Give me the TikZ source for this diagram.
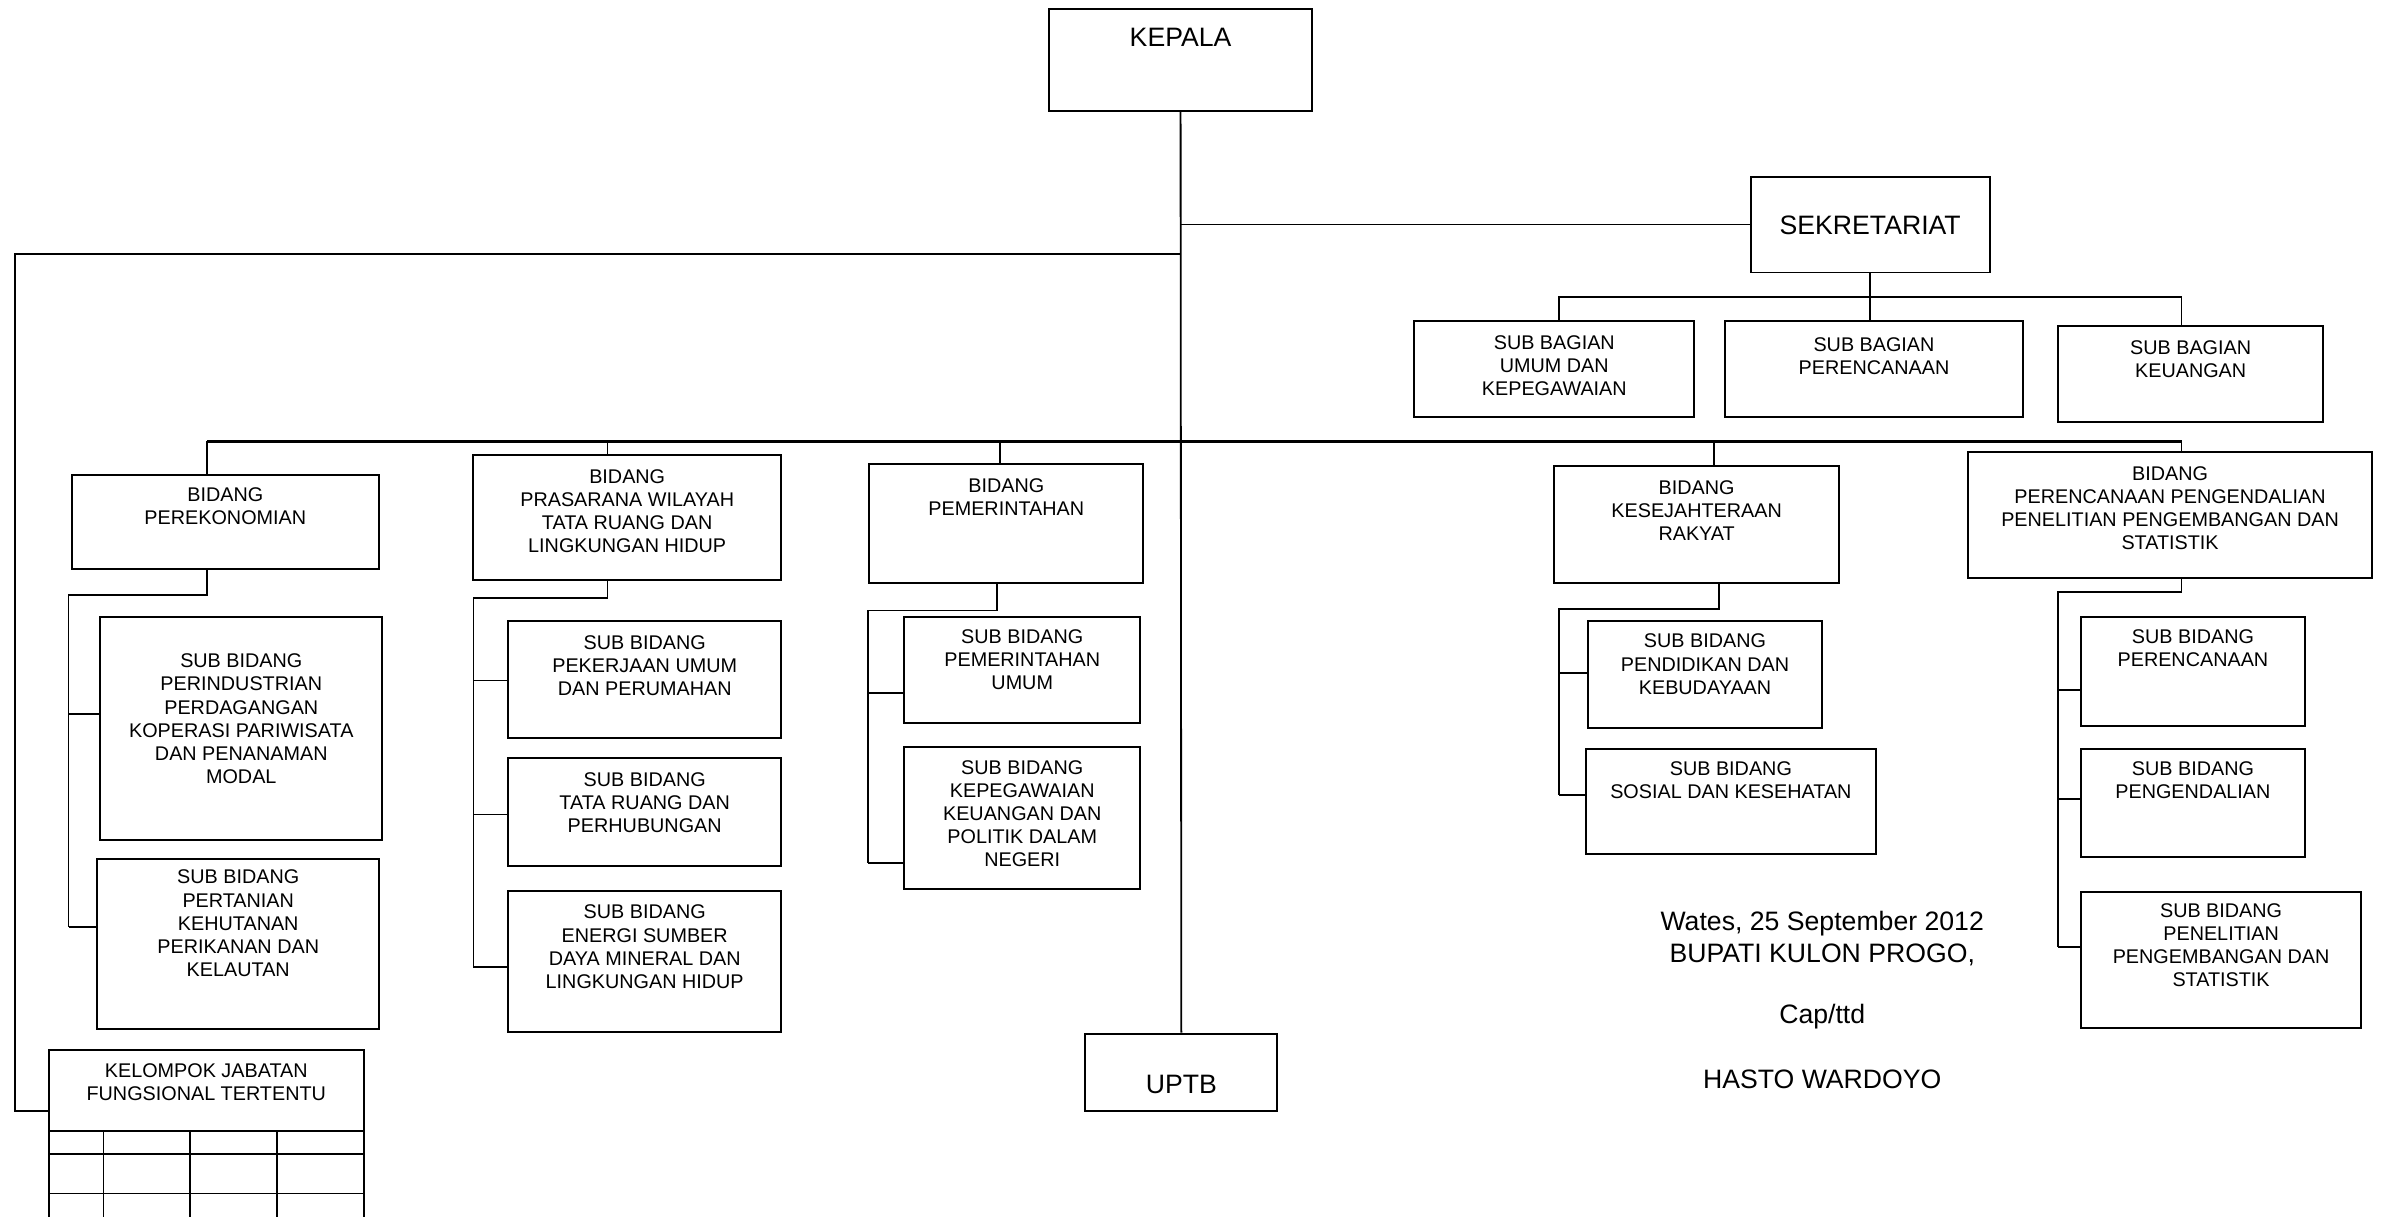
\documentclass[tikz,border=0pt]{standalone}
\usepackage{fontspec}
\setmainfont{Liberation Sans}
\usetikzlibrary{fit}
\tikzset{
  boxst/.style={draw, line width=1.3bp, inner sep=0pt},
  sm/.style={inner sep=0pt, anchor=north, align=center, font=\fontsize{13bp}{15.2bp}\selectfont},
  lg/.style={inner sep=0pt, anchor=north, align=center, font=\fontsize{17.5bp}{20bp}\selectfont},
  ln/.style={line width=1.2bp},
}
\newcommand\orgbox[8]{%
  \node[boxst, fit={(#2,#3) (#4,#5)}] (#1) {};
  \path (#1.north) ++(0,#7-#3) node[#6] (#1t) {#8};
}
\begin{document}
\begin{tikzpicture}[x=1bp, y=-1bp]
\clip (0,0) rectangle (1568,799);
\useasboundingbox (0,0) rectangle (1568,799);

% top level
\orgbox{kepala}{689}{6}{862}{73}{lg}{19}{KEPALA}
\orgbox{sek}{1150}{116}{1307}{179}{lg}{142}{SEKRETARIAT}
\orgbox{uptb}{713}{679}{839}{730}{lg}{707}{UPTB}

% sub bagian
\orgbox{sbumum}{929}{211}{1113}{274}{sm}{221}{SUB BAGIAN\\UMUM DAN\\KEPEGAWAIAN}
\orgbox{sbren}{1133}{211}{1329}{274}{sm}{222}{SUB BAGIAN\\PERENCANAAN}
\orgbox{sbkeu}{1352}{214}{1526}{277}{sm}{224}{SUB BAGIAN\\KEUANGAN}

% bidang
\orgbox{bekon}{47}{312}{249}{374}{sm}{321}{BIDANG\\PEREKONOMIAN}
\orgbox{bpras}{311}{299}{513}{381}{sm}{309}{BIDANG\\PRASARANA WILAYAH\\TATA RUANG DAN\\LINGKUNGAN HIDUP}
\orgbox{bpem}{571}{305}{751}{383}{sm}{315}{BIDANG\\PEMERINTAHAN}
\orgbox{bkes}{1021}{306}{1208}{383}{sm}{316}{BIDANG\\KESEJAHTERAAN\\RAKYAT}
\orgbox{bren}{1293}{297}{1558}{380}{sm}{307}{BIDANG\\PERENCANAAN PENGENDALIAN\\PENELITIAN PENGEMBANGAN DAN\\STATISTIK}

% sub bidang
\orgbox{sind}{66}{405}{251}{552}{sm}{430}{SUB BIDANG\\PERINDUSTRIAN\\PERDAGANGAN\\KOPERASI PARIWISATA\\DAN PENANAMAN\\MODAL}
\orgbox{stani}{64}{564}{249}{676}{sm}{572}{SUB BIDANG\\PERTANIAN\\KEHUTANAN\\PERIKANAN DAN\\KELAUTAN}
\orgbox{spu}{334}{408}{513}{485}{sm}{418}{SUB BIDANG\\PEKERJAAN UMUM\\DAN PERUMAHAN}
\orgbox{str}{334}{498}{513}{569}{sm}{508}{SUB BIDANG\\TATA RUANG DAN\\PERHUBUNGAN}
\orgbox{sen}{334}{585}{513}{678}{sm}{595}{SUB BIDANG\\ENERGI SUMBER\\DAYA MINERAL DAN\\LINGKUNGAN HIDUP}
\orgbox{spem}{594}{405}{749}{475}{sm}{414}{SUB BIDANG\\PEMERINTAHAN\\UMUM}
\orgbox{speg}{594}{491}{749}{584}{sm}{500}{SUB BIDANG\\KEPEGAWAIAN\\KEUANGAN DAN\\POLITIK DALAM\\NEGERI}
\orgbox{spend}{1043}{408}{1197}{478}{sm}{417}{SUB BIDANG\\PENDIDIKAN DAN\\KEBUDAYAAN}
\orgbox{ssos}{1042}{492}{1232}{561}{sm}{501}{SUB BIDANG\\SOSIAL DAN KESEHATAN}
\orgbox{sren}{1367}{405}{1514}{477}{sm}{414}{SUB BIDANG\\PERENCANAAN}
\orgbox{sdal}{1367}{492}{1514}{563}{sm}{501}{SUB BIDANG\\PENGENDALIAN}
\orgbox{slit}{1367}{586}{1551}{675}{sm}{594}{SUB BIDANG\\PENELITIAN\\PENGEMBANGAN DAN\\STATISTIK}

% kelompok jabatan fungsional
\orgbox{kjf}{32}{690}{239}{830}{sm}{699}{KELOMPOK JABATAN\\FUNGSIONAL TERTENTU}
\coordinate (g1) at (32,743); \coordinate (g2) at (32,758); \coordinate (g3) at (32,784);
\coordinate (v1) at (68,743); \coordinate (v2) at (125,743); \coordinate (v3) at (182,743);
\foreach \g in {g1,g2,g3} \draw[ln] (\g) -- (\g -| kjf.east);
\foreach \v in {v1,v2,v3} \draw[ln] (\v) -- (\v |- kjf.south);

% signature
\node[lg, anchor=center] (sig1) at (1197,607) {Wates, 25 September 2012};
\node[lg, anchor=center] (sig2) at (1197,627) {BUPATI KULON PROGO,};
\node[lg, anchor=center] (sig3) at (1197,668) {Cap/ttd};
\node[lg, anchor=center] (sig4) at (1197,709) {HASTO WARDOYO};

% main connectors
\draw[ln] (kepala.south) -- (uptb.north);
\draw[ln] (sek.west) -- (sek.west -| kepala.south);
\coordinate (lt) at (10,167);
\coordinate (kjfin) at (32,730);
\draw[ln] (kepala.south |- lt) -- (lt) |- (kjfin);

% sekretariat bracket
\coordinate (sb) at (1024,195);
\coordinate (sbr) at (1433,195);
\draw[ln] (sek.south) -- (sek.south |- sbren.north);
\draw[ln] (sb |- sbumum.north) -- (sb) -- (sbr) -- (sbr |- sbkeu.north);

% main bus
\coordinate (b1) at (136,290); \coordinate (b2) at (399,290); \coordinate (b3) at (657,290);
\coordinate (b4) at (1126,290); \coordinate (b5) at (1433,290);
\draw[line width=1.5bp] (b1) -- (b5);
\draw[ln] (b1) -- (b1 |- bekon.north);
\draw[ln] (b2) -- (b2 |- bpras.north);
\draw[ln] (b3) -- (b3 |- bpem.north);
\draw[ln] (b4) -- (b4 |- bkes.north);
\draw[ln] (b5) -- (b5 |- bren.north);

% perekonomian group
\coordinate (e0) at (45,391); \coordinate (e1) at (45,469); \coordinate (e2) at (45,609);
\draw[ln] (b1 |- bekon.south) |- (e0) -- (e2);
\draw[ln] (e1) -- (e1 -| sind.west);
\draw[ln] (e2) -- (e2 -| stani.west);

% prasarana group
\coordinate (p0) at (311,393); \coordinate (p1) at (311,447); \coordinate (p2) at (311,535); \coordinate (p3) at (311,635);
\draw[ln] (b2 |- bpras.south) |- (p0) -- (p3);
\draw[ln] (p1) -- (p1 -| spu.west);
\draw[ln] (p2) -- (p2 -| str.west);
\draw[ln] (p3) -- (p3 -| sen.west);

% pemerintahan group
\coordinate (m0) at (570,401); \coordinate (m1) at (570,455); \coordinate (m2) at (570,567);
\coordinate (mx) at (655,386);
\draw[ln] (mx |- bpem.south) |- (m0) -- (m2);
\draw[ln] (m1) -- (m1 -| spem.west);
\draw[ln] (m2) -- (m2 -| speg.west);

% kesejahteraan group
\coordinate (k0) at (1024,400); \coordinate (k1) at (1024,442); \coordinate (k2) at (1024,522);
\coordinate (kx) at (1129,383);
\draw[ln] (kx |- bkes.south) |- (k0) -- (k2);
\draw[ln] (k1) -- (k1 -| spend.west);
\draw[ln] (k2) -- (k2 -| ssos.west);

% perencanaan group
\coordinate (r0) at (1352,389); \coordinate (r1) at (1352,453); \coordinate (r2) at (1352,525); \coordinate (r3) at (1352,622);
\draw[ln] (b5 |- bren.south) |- (r0) -- (r3);
\draw[ln] (r1) -- (r1 -| sren.west);
\draw[ln] (r2) -- (r2 -| sdal.west);
\draw[ln] (r3) -- (r3 -| slit.west);
\end{tikzpicture}
\end{document}
